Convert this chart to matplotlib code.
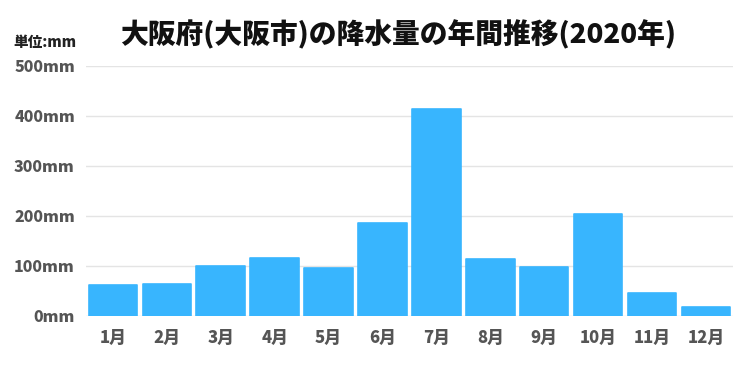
import numpy as np
import matplotlib
matplotlib.use("Agg")
import matplotlib.pyplot as plt

plt.rcParams['font.family'] = ['Noto Sans CJK JP', 'DejaVu Sans']

months = ['1月', '2月', '3月', '4月', '5月', '6月', '7月', '8月', '9月', '10月', '11月', '12月']
rain_mm = [61.5, 64.5, 101.0, 116.5, 96.5, 186.5, 414.0, 114.0, 98.5, 204.5, 46.5, 18.5]
yticks = [0, 100, 200, 300, 400, 500]
ytick_labels = ['%dmm' % v for v in yticks]

BAR_COLOR = '#38b5fe'
TEXT_COLOR = '#555555'

fig = plt.figure(figsize=(7.35, 3.68), dpi=100)
ax = fig.add_axes([0.117, 0.141, 0.880, 0.680])

x = np.arange(len(months))
bars = ax.bar(x, rain_mm, width=0.9, color=BAR_COLOR, edgecolor=BAR_COLOR,
              linewidth=1.2, zorder=3)
for b in bars:
    b.set_joinstyle('round')

ax.set_xlim(-0.5, len(months) - 0.5)
ax.set_ylim(0, 500)
ax.set_yticks(yticks)
ax.set_yticklabels(ytick_labels)
ax.set_xticks(x)
ax.set_xticklabels(months)
ax.grid(axis='y', color='#e4e4e4', linewidth=1, zorder=0)
ax.tick_params(length=0, labelsize=11.5, labelcolor=TEXT_COLOR, pad=8)
ax.tick_params(axis='x', labelsize=12, pad=9)
for lab in ax.get_xticklabels() + ax.get_yticklabels():
    lab.set_fontweight('heavy')
for s in ax.spines.values():
    s.set_visible(False)

fig.text(0.541, 0.905, '大阪府(大阪市)の降水量の年間推移(2020年)', ha='center', va='center',
         fontsize=20, fontweight='heavy', color='#111111')
fig.text(0.018, 0.885, '単位:mm', ha='left', va='center', fontsize=10.5,
         fontweight='heavy', color='#222222')

fig.savefig('out.png', dpi=100, facecolor='white')
